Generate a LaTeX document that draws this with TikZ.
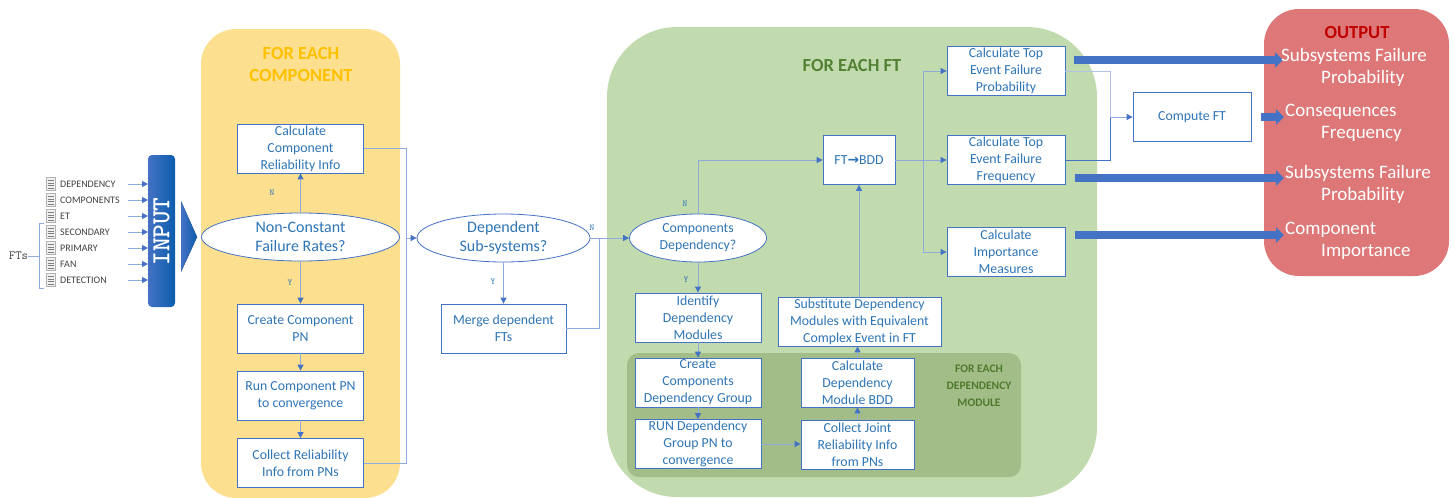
\documentclass[tikz,border=0pt]{standalone}
\usepackage{fontspec}
\setmainfont{Carlito}
\newfontfamily\symbolfont{DejaVu Sans}
\usetikzlibrary{arrows.meta,shapes.geometric}
\definecolor{lineblue}{HTML}{8FAADC}
\definecolor{darkblue}{HTML}{4472C4}
\definecolor{textblue}{HTML}{2E75B6}
\definecolor{inputblue}{HTML}{0B5CAD}
\definecolor{panelyellow}{HTML}{FDE08F}
\definecolor{panelgreen}{HTML}{C2DBAE}
\definecolor{paneldark}{HTML}{A2BD88}
\definecolor{panelred}{HTML}{DE7878}
\definecolor{titleyellow}{HTML}{FFC000}
\definecolor{titlegreen}{HTML}{548235}
\definecolor{titlemodule}{HTML}{4E7A2D}
\definecolor{titlered}{HTML}{C00000}
\begin{document}
\begin{tikzpicture}
	[	x=1pt,y=-1pt,
	box/.style={rectangle,draw=darkblue,fill=white,text=textblue,line width=.8pt,inner sep=0pt,minimum width=126pt,minimum height=49pt,align=center,font=\fontsize{13.8}{17}\selectfont},
	small/.style={box,minimum width=118pt},
	oval/.style={box,ellipse,font=\fontsize{16}{19}\selectfont},
	conn/.style={draw=lineblue,line width=.9pt,-{Triangle[length=6pt,width=6pt,color=darkblue]}},
	plainconn/.style={draw=lineblue,line width=.9pt},
	fat/.style={draw=darkblue,line width=8.5pt,-{Triangle[length=8pt,width=15pt]}},
	title/.style={font=\bfseries\fontsize{18.5}{22}\selectfont,align=center},
	result/.style={text=white,anchor=west,inner sep=0pt,align=left,font=\fontsize{19}{22}\selectfont},
	yn/.style={font=\ttfamily\fontsize{9}{10}\selectfont,text=textblue},
	file/.style={font=\fontsize{10}{11}\selectfont,text=black!75,anchor=west,inner sep=0pt},
	doc/.style={draw=gray!60,fill=gray!12,line width=.5pt,inner sep=0pt,minimum width=9pt,minimum height=13pt,
		path picture={\draw[gray,line width=.5pt] ([yshift=3.5pt]path picture bounding box.center) ++(-3,0) -- ++(6,0) ++(-6,2.5) -- ++(6,0) ++(-6,2.5) -- ++(6,0) ++(-6,2.5) -- ++(6,0);}}
	]
	\useasboundingbox (0,0) rectangle (1454,498);

	\fill[panelyellow,rounded corners=35pt] (201,29) rectangle (400,498);
	\fill[panelgreen,rounded corners=70pt] (607,27) rectangle (1097,497);
	\fill[paneldark,rounded corners=12pt] (627,353) rectangle (1021,477);
	\fill[panelred,rounded corners=35pt] (1264,9) rectangle (1449,276);

	\node[title,text=titleyellow] (titlecomp) at (301,64){FOR EACH\\COMPONENT};
	\node[title,text=titlegreen] (titleft) at (852,65){FOR EACH FT};
	\node[title,text=titlemodule,font=\bfseries\fontsize{11.5}{17}\selectfont] (titlemod) at (979,386){FOR EACH\\DEPENDENCY\\MODULE};
	\node[title,text=titlered] (titleout) at (1357,33){OUTPUT};

	\node[doc] (docdep) at (50.5,184){};
	\node[doc] (doccomp) at (50.5,200){};
	\node[doc] (docet) at (50.5,216){};
	\node[doc] (docsec) at (50.5,232){};
	\node[doc] (docpri) at (50.5,248){};
	\node[doc] (docfan) at (50.5,264){};
	\node[doc] (docdet) at (50.5,280){};

	\node[file] (filedep) at (60,184.5){DEPENDENCY};
	\node[file] (filecomp) at (60,200.5){COMPONENTS};
	\node[file] (fileet) at (60,216.5){ET};
	\node[file] (filesec) at (60,232.5){SECONDARY};
	\node[file] (filepri) at (60,248.5){PRIMARY};
	\node[file] (filefan) at (60,264.5){FAN};
	\node[file] (filedet) at (60,280.5){DETECTION};

	\node[font=\ttfamily\fontsize{12.5}{14}\selectfont,text=black!75,inner sep=0pt] (fts) at (18.5,256){FTs};
	\draw[plainconn] (44,223.5) -- (39,223.5) -- (39,288) -- (44,288);
	\coordinate (ftsjoin) at (39,256);
	\draw[plainconn] (fts) -- (ftsjoin);

	\node[rectangle,rounded corners=4pt,left color=darkblue,right color=inputblue,minimum width=27pt,minimum height=152pt,inner sep=0pt] (input) at (161.5,231){};
	\node[rotate=90,text=white,font=\ttfamily\bfseries\fontsize{26}{28}\selectfont] (inputtext) at (161.5,231.5){INPUT};
	\fill[left color=darkblue,right color=inputblue] (181,201) -- (197,237) -- (181,272) -- cycle;

	\coordinate (indep) at (148,184);
	\coordinate (incomp) at (148,200);
	\coordinate (inet) at (148,216);
	\coordinate (insec) at (148,232);
	\coordinate (inpri) at (148,248);
	\coordinate (infan) at (148,264);
	\coordinate (indet) at (148,280);
	\draw[conn] (128,184) -- (indep);
	\draw[conn] (128,200) -- (incomp);
	\draw[conn] (128,216) -- (inet);
	\draw[conn] (128,232) -- (insec);
	\draw[conn] (128,248) -- (inpri);
	\draw[conn] (128,264) -- (infan);
	\draw[conn] (128,280) -- (indet);

	\node[box] (calcinfo) at (300.5,148.5){Calculate\\Component\\Reliability Info};
	\node[oval,minimum width=198pt,minimum height=48pt] (nonconst) at (300.5,237){Non-Constant\\Failure Rates?};
	\node[box] (createpn) at (300.5,328.5){Create Component\\PN};
	\node[box] (runpn) at (300.5,395.5){Run Component PN\\to convergence};
	\node[box] (collect) at (300.5,463){Collect Reliability\\Info from PNs};

	\node[oval,minimum width=173pt,minimum height=48pt] (depsub) at (503.5,238){Dependent\\Sub-systems?};
	\node[box,minimum width=125pt] (merge) at (503.5,328.5){Merge dependent\\FTs};

	\node[oval,font=\fontsize{13.8}{17}\selectfont,minimum width=137pt,minimum height=48pt] (compdep) at (698,238){Components\\Dependency?};
	\node[box] (identify) at (698,317.5){Identify\\Dependency\\Modules};
	\node[box] (creategroup) at (698,382.5){Create\\Components\\Dependency Group};
	\node[box] (rungroup) at (698,444){RUN Dependency\\Group PN to\\convergence};
	\node[box,minimum width=113pt] (joint) at (857.5,444.5){Collect Joint\\Reliability Info\\from PNs};
	\node[box,minimum width=113pt] (modbdd) at (857.5,382.5){Calculate\\Dependency\\Module BDD};
	\node[box,minimum width=163pt] (subst) at (859.5,321.5){Substitute Dependency\\Modules with Equivalent\\Complex Event in FT};
	\node[box,minimum width=72pt] (bdd) at (859,160){FT{\symbolfont\bfseries →}BDD};

	\node[small] (topprob) at (1006,71){Calculate Top\\Event Failure\\Probability};
	\node[small] (topfreq) at (1006,160){Calculate Top\\Event Failure\\Frequency};
	\node[small] (import) at (1006,252){Calculate\\Importance\\Measures};
	\node[small] (computeft) at (1192,117){Compute FT};

	\node[yn] (labn) at (272,193){N};
	\node[yn] (laby) at (290,283){Y};
	\node[yn] (labdy) at (493,282){Y};
	\node[yn] (labdn) at (592,228){N};
	\node[yn] (labcn) at (685,204){N};
	\node[yn] (labcy) at (686,280){Y};

	\draw[conn] (nonconst) -- (calcinfo);
	\draw[conn] (nonconst) -- (createpn);
	\draw[conn] (createpn) -- (runpn);
	\draw[conn] (runpn) -- (collect);

	\coordinate (leftjoin) at (406,238);
	\draw[plainconn] (calcinfo.east) -| (leftjoin);
	\draw[plainconn] (collect.east) -| (leftjoin);
	\draw[conn] (leftjoin) -- (depsub);

	\draw[conn] (depsub) -- (merge);
	\draw[conn] (depsub) -- (compdep);
	\coordinate (midjoin) at (599,238);
	\draw[plainconn] (merge.east) -| (midjoin);

	\draw[conn] (compdep.north) |- (bdd.west);
	\draw[conn] (compdep) -- (identify);
	\draw[conn] (identify) -- (creategroup);
	\draw[conn] (creategroup) -- (rungroup);
	\draw[conn] (rungroup.east) -- (rungroup.east -| joint.west);
	\draw[conn] (joint) -- (modbdd);
	\draw[conn] (modbdd) -- (modbdd.north |- subst.south);
	\draw[conn] (subst.north -| bdd) -- (bdd);

	\coordinate (bddjoin) at (923,160);
	\draw[conn] (bdd) -- (topfreq);
	\draw[conn] (bddjoin) |- (topprob.west);
	\draw[conn] (bddjoin) |- (import.west);

	\coordinate (ftjoin) at (1110,117);
	\draw[plainconn,draw=lineblue!70] (topprob.east) -| (ftjoin);
	\draw[plainconn,draw=darkblue] (topfreq.east) -| (ftjoin);
	\draw[conn] (ftjoin) -- (computeft);

	\coordinate (fatprobs) at (1074,60);
	\coordinate (fatprobe) at (1283,60);
	\coordinate (fatcons) at (1261,117);
	\coordinate (fatcone) at (1284,117);
	\coordinate (fatfreqs) at (1075,178);
	\coordinate (fatfreqe) at (1284,178);
	\coordinate (fatimps) at (1075,235);
	\coordinate (fatimpe) at (1284,235);
	\draw[fat] (fatprobs) -- (fatprobe);
	\draw[fat] (fatcons) -- (fatcone);
	\draw[fat] (fatfreqs) -- (fatfreqe);
	\draw[fat] (fatimps) -- (fatimpe);

	\node[result] (outprob) at (1281,67){Subsystems Failure\\\hspace*{40pt}Probability};
	\node[result] (outcons) at (1285,123){Consequences\\\hspace*{36pt}Frequency};
	\node[result] (outfreq) at (1285,184){Subsystems Failure\\\hspace*{36pt}Probability};
	\node[result] (outimp) at (1285,241){Component\\\hspace*{36pt}Importance};
\end{tikzpicture}
\end{document}
